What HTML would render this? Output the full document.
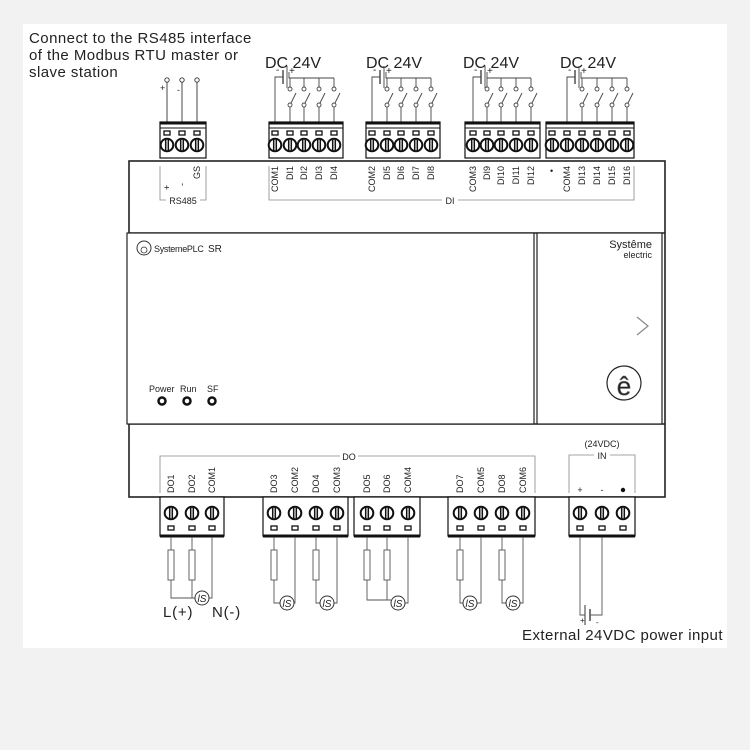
<!DOCTYPE html>
<html><head><meta charset="utf-8"><style>
html,body{margin:0;padding:0;background:#f2f2f2;}
svg{display:block;}
text{font-family:"Liberation Sans",Arial,sans-serif;fill:#222;}
</style></head><body>
<svg width="750" height="750" viewBox="0 0 750 750" xmlns="http://www.w3.org/2000/svg">
<defs>
<g id="s"><circle r="6.3" fill="#fff" stroke="#111" stroke-width="2"/><line x1="-1.3" y1="-6" x2="-1.3" y2="6" stroke="#111" stroke-width="1.5"/><line x1="1.3" y1="-6" x2="1.3" y2="6" stroke="#111" stroke-width="1.5"/></g>
<rect id="r" x="-3" y="-2" width="6" height="4" fill="#fff" stroke="#111" stroke-width="1.3"/>
<g id="sw" fill="none" stroke="#444" stroke-width="0.9"><line x1="0" y1="78" x2="0" y2="87"/><circle cx="0" cy="89" r="2"/><circle cx="0" cy="105" r="2"/><line x1="1" y1="103" x2="6" y2="93"/><line x1="0" y1="107" x2="0" y2="122"/></g>
<g id="coil"><circle r="7" fill="#fff" stroke="#333" stroke-width="1"/><text x="0" y="4" font-size="10" text-anchor="middle" font-style="italic">lS</text></g>
<rect id="res" x="-3" y="0" width="6" height="30" fill="#fff" stroke="#555" stroke-width="0.9"/>
</defs>
<rect x="23" y="24" width="704" height="624" fill="#fff"/>
<g font-size="15" letter-spacing="0.45">
<text x="29" y="43">Connect to the RS485 interface</text>
<text x="29" y="60">of the Modbus RTU master or</text>
<text x="29" y="77">slave station</text>
</g>
<g font-size="16"><text x="265" y="68">DC 24V</text><text x="366" y="68">DC 24V</text><text x="463" y="68">DC 24V</text><text x="560" y="68">DC 24V</text></g>

<g stroke="#333" stroke-width="0.9" fill="#fff"><line x1="167" y1="82" x2="167" y2="122"/><line x1="182" y1="82" x2="182" y2="122"/><line x1="197" y1="82" x2="197" y2="122"/><circle cx="167" cy="80" r="2.2"/><circle cx="182" cy="80" r="2.2"/><circle cx="197" cy="80" r="2.2"/></g>
<text x="160" y="91" font-size="9">+</text><text x="177" y="93" font-size="9">-</text>

<g fill="#fff" stroke="#222" stroke-width="1.6">
<rect x="129" y="161" width="536" height="336"/>
<line x1="129" y1="233" x2="665" y2="233"/>
<line x1="129" y1="424" x2="665" y2="424"/>
<rect x="127" y="233" width="407" height="191" stroke-width="1.2"/>
<rect x="537" y="233" width="125" height="191" stroke-width="1.2"/>
</g>

<g fill="none" stroke="#444" stroke-width="0.9">
<polyline points="275,122 275,77 283,77"/><line x1="283" y1="70" x2="283" y2="84" stroke-width="1.4"/><line x1="287" y1="66" x2="287" y2="88"/><polyline points="289,72 289,78 334,78"/>
<polyline points="372,122 372,77 380,77"/><line x1="380" y1="70" x2="380" y2="84" stroke-width="1.4"/><line x1="384" y1="66" x2="384" y2="88"/><polyline points="386,72 386,78 431,78"/>
<polyline points="473,122 473,77 481,77"/><line x1="481" y1="70" x2="481" y2="84" stroke-width="1.4"/><line x1="485" y1="66" x2="485" y2="88"/><polyline points="487,72 487,78 531,78"/>
<polyline points="567,122 567,77 575,77"/><line x1="575" y1="70" x2="575" y2="84" stroke-width="1.4"/><line x1="579" y1="66" x2="579" y2="88"/><polyline points="581,72 581,78 627,78"/>
</g>
<g font-size="10"><text x="276" y="73">-</text><text x="289" y="74">+</text><text x="373" y="73">-</text><text x="386" y="74">+</text><text x="474" y="73">-</text><text x="487" y="74">+</text><text x="568" y="73">-</text><text x="581" y="74">+</text></g>
<use href="#sw" x="290"/><use href="#sw" x="304"/><use href="#sw" x="319"/><use href="#sw" x="334"/>
<use href="#sw" x="387"/><use href="#sw" x="401"/><use href="#sw" x="416"/><use href="#sw" x="431"/>
<use href="#sw" x="487"/><use href="#sw" x="501"/><use href="#sw" x="516"/><use href="#sw" x="531"/>
<use href="#sw" x="582"/><use href="#sw" x="597"/><use href="#sw" x="612"/><use href="#sw" x="627"/>

<g fill="#fff" stroke="#111" stroke-width="1.2">
<rect x="160" y="122" width="46" height="36"/><rect x="269" y="122" width="74" height="36"/><rect x="366" y="122" width="74" height="36"/><rect x="465" y="122" width="75" height="36"/><rect x="546" y="122" width="88" height="36"/>
</g>
<g stroke="#111" stroke-width="3"><line x1="160" y1="123" x2="206" y2="123"/><line x1="269" y1="123" x2="343" y2="123"/><line x1="366" y1="123" x2="440" y2="123"/><line x1="465" y1="123" x2="540" y2="123"/><line x1="546" y1="123" x2="634" y2="123"/></g>
<g stroke="#111" stroke-width="1"><line x1="160" y1="128" x2="206" y2="128"/><line x1="269" y1="128" x2="343" y2="128"/><line x1="366" y1="128" x2="440" y2="128"/><line x1="465" y1="128" x2="540" y2="128"/><line x1="546" y1="128" x2="634" y2="128"/></g>
<g>
<use href="#r" x="167" y="133"/><use href="#r" x="182" y="133"/><use href="#r" x="197" y="133"/>
<use href="#s" x="167" y="145"/><use href="#s" x="182" y="145"/><use href="#s" x="197" y="145"/>
<use href="#r" x="275" y="133"/><use href="#r" x="290" y="133"/><use href="#r" x="304" y="133"/><use href="#r" x="319" y="133"/><use href="#r" x="334" y="133"/>
<use href="#s" x="275" y="145"/><use href="#s" x="290" y="145"/><use href="#s" x="304" y="145"/><use href="#s" x="319" y="145"/><use href="#s" x="334" y="145"/>
<use href="#r" x="372" y="133"/><use href="#r" x="387" y="133"/><use href="#r" x="401" y="133"/><use href="#r" x="416" y="133"/><use href="#r" x="431" y="133"/>
<use href="#s" x="372" y="145"/><use href="#s" x="387" y="145"/><use href="#s" x="401" y="145"/><use href="#s" x="416" y="145"/><use href="#s" x="431" y="145"/>
<use href="#r" x="473" y="133"/><use href="#r" x="487" y="133"/><use href="#r" x="501" y="133"/><use href="#r" x="516" y="133"/><use href="#r" x="531" y="133"/>
<use href="#s" x="473" y="145"/><use href="#s" x="487" y="145"/><use href="#s" x="501" y="145"/><use href="#s" x="516" y="145"/><use href="#s" x="531" y="145"/>
<use href="#r" x="552" y="133"/><use href="#r" x="567" y="133"/><use href="#r" x="582" y="133"/><use href="#r" x="597" y="133"/><use href="#r" x="612" y="133"/><use href="#r" x="627" y="133"/>
<use href="#s" x="552" y="145"/><use href="#s" x="567" y="145"/><use href="#s" x="582" y="145"/><use href="#s" x="597" y="145"/><use href="#s" x="612" y="145"/><use href="#s" x="627" y="145"/>
</g>

<g font-size="9">
<text transform="translate(170,190) rotate(-90)" fill="#999">+</text>
<text transform="translate(185,186) rotate(-90)" fill="#999">-</text>
<text transform="translate(200,166) rotate(-90)" text-anchor="end">GS</text>
<text transform="translate(278,166) rotate(-90)" text-anchor="end">COM1</text><text transform="translate(293,166) rotate(-90)" text-anchor="end">DI1</text><text transform="translate(307,166) rotate(-90)" text-anchor="end">DI2</text><text transform="translate(322,166) rotate(-90)" text-anchor="end">DI3</text><text transform="translate(337,166) rotate(-90)" text-anchor="end">DI4</text>
<text transform="translate(375,166) rotate(-90)" text-anchor="end">COM2</text><text transform="translate(390,166) rotate(-90)" text-anchor="end">DI5</text><text transform="translate(404,166) rotate(-90)" text-anchor="end">DI6</text><text transform="translate(419,166) rotate(-90)" text-anchor="end">DI7</text><text transform="translate(434,166) rotate(-90)" text-anchor="end">DI8</text>
<text transform="translate(476,166) rotate(-90)" text-anchor="end">COM3</text><text transform="translate(490,166) rotate(-90)" text-anchor="end">DI9</text><text transform="translate(504,166) rotate(-90)" text-anchor="end">DI10</text><text transform="translate(519,166) rotate(-90)" text-anchor="end">DI11</text><text transform="translate(534,166) rotate(-90)" text-anchor="end">DI12</text>
<text x="550" y="174">•</text>
<text transform="translate(570,166) rotate(-90)" text-anchor="end">COM4</text><text transform="translate(585,166) rotate(-90)" text-anchor="end">DI13</text><text transform="translate(600,166) rotate(-90)" text-anchor="end">DI14</text><text transform="translate(615,166) rotate(-90)" text-anchor="end">DI15</text><text transform="translate(630,166) rotate(-90)" text-anchor="end">DI16</text>
<text x="183" y="204" text-anchor="middle">RS485</text>
<text x="450" y="204" text-anchor="middle">DI</text>
</g>
<g fill="none" stroke="#888" stroke-width="0.8">
<polyline points="160,166 160,200 166,200"/><polyline points="206,166 206,200 200,200"/>
<polyline points="269,166 269,200 442,200"/><polyline points="458,200 634,200 634,166"/>
</g>

<circle cx="144" cy="248" r="7" fill="none" stroke="#333" stroke-width="1"/><circle cx="144" cy="250" r="3" fill="none" stroke="#333" stroke-width="0.8"/>
<text x="154" y="252" font-size="9" fill="#555" letter-spacing="-0.3">SystemePLC</text><text x="208" y="252" font-size="10">SR</text>
<g font-size="9"><text x="149" y="392">Power</text><text x="180" y="392">Run</text><text x="207" y="392">SF</text></g>
<g fill="#fff" stroke="#111" stroke-width="2.5"><circle cx="162" cy="401" r="3.5"/><circle cx="187" cy="401" r="3.5"/><circle cx="212" cy="401" r="3.5"/></g>
<text x="652" y="248" font-size="11" text-anchor="end" fill="#999">Systême</text>
<text x="652" y="258" font-size="9" text-anchor="end" fill="#999">electric</text>
<polyline points="637,317 648,326 637,335" fill="none" stroke="#888" stroke-width="1.2"/>
<circle cx="624" cy="383" r="17" fill="none" stroke="#222" stroke-width="1.2"/>
<text x="624" y="395" font-size="26" text-anchor="middle" fill="#fff" stroke="#777" stroke-width="0.6">ê</text>

<g font-size="9">
<text x="349" y="460" text-anchor="middle">DO</text>
<text transform="translate(174,493) rotate(-90)">DO1</text><text transform="translate(195,493) rotate(-90)">DO2</text><text transform="translate(215,493) rotate(-90)">COM1</text>
<text transform="translate(277,493) rotate(-90)">DO3</text><text transform="translate(298,493) rotate(-90)">COM2</text><text transform="translate(319,493) rotate(-90)">DO4</text><text transform="translate(340,493) rotate(-90)">COM3</text>
<text transform="translate(370,493) rotate(-90)">DO5</text><text transform="translate(390,493) rotate(-90)">DO6</text><text transform="translate(411,493) rotate(-90)">COM4</text>
<text transform="translate(463,493) rotate(-90)">DO7</text><text transform="translate(484,493) rotate(-90)">COM5</text><text transform="translate(505,493) rotate(-90)">DO8</text><text transform="translate(526,493) rotate(-90)">COM6</text>
<text x="602" y="447" text-anchor="middle">(24VDC)</text>
<text x="602" y="459" text-anchor="middle">IN</text>
<text x="580" y="493" text-anchor="middle" fill="#888">+</text>
<text x="602" y="493" text-anchor="middle" fill="#aaa">-</text>
</g>
<circle cx="623" cy="490" r="2.2" fill="#111"/>
<g fill="none" stroke="#888" stroke-width="0.8">
<polyline points="160,493 160,456 340,456"/><polyline points="358,456 535,456 535,493"/>
<polyline points="569,493 569,455 594,455"/><polyline points="610,455 635,455 635,493"/>
</g>

<g fill="#fff" stroke="#111" stroke-width="1.2">
<rect x="160" y="497" width="64" height="39"/><rect x="263" y="497" width="85" height="39"/><rect x="354" y="497" width="66" height="39"/><rect x="448" y="497" width="87" height="39"/><rect x="569" y="497" width="66" height="39"/>
</g>
<g stroke="#111" stroke-width="3"><line x1="160" y1="536" x2="224" y2="536"/><line x1="263" y1="536" x2="348" y2="536"/><line x1="354" y1="536" x2="420" y2="536"/><line x1="448" y1="536" x2="535" y2="536"/><line x1="569" y1="536" x2="635" y2="536"/></g>
<g>
<use href="#s" x="171" y="513"/><use href="#s" x="192" y="513"/><use href="#s" x="212" y="513"/>
<use href="#s" x="274" y="513"/><use href="#s" x="295" y="513"/><use href="#s" x="316" y="513"/><use href="#s" x="337" y="513"/>
<use href="#s" x="367" y="513"/><use href="#s" x="387" y="513"/><use href="#s" x="408" y="513"/>
<use href="#s" x="460" y="513"/><use href="#s" x="481" y="513"/><use href="#s" x="502" y="513"/><use href="#s" x="523" y="513"/>
<use href="#s" x="580" y="513"/><use href="#s" x="602" y="513"/><use href="#s" x="623" y="513"/>
<use href="#r" x="171" y="528"/><use href="#r" x="192" y="528"/><use href="#r" x="212" y="528"/>
<use href="#r" x="274" y="528"/><use href="#r" x="295" y="528"/><use href="#r" x="316" y="528"/><use href="#r" x="337" y="528"/>
<use href="#r" x="367" y="528"/><use href="#r" x="387" y="528"/><use href="#r" x="408" y="528"/>
<use href="#r" x="460" y="528"/><use href="#r" x="481" y="528"/><use href="#r" x="502" y="528"/><use href="#r" x="523" y="528"/>
<use href="#r" x="580" y="528"/><use href="#r" x="602" y="528"/><use href="#r" x="623" y="528"/>
</g>

<g fill="none" stroke="#555" stroke-width="0.9">
<line x1="171" y1="537" x2="171" y2="550"/><polyline points="171,580 171,598 195,598"/>
<line x1="192" y1="537" x2="192" y2="550"/><line x1="192" y1="580" x2="192" y2="598"/>
<polyline points="212,537 212,598 209,598"/>
<line x1="274" y1="537" x2="274" y2="550"/><polyline points="274,580 274,603 280,603"/><polyline points="295,537 295,603 294,603"/>
<line x1="316" y1="537" x2="316" y2="550"/><polyline points="316,580 316,603 320,603"/><polyline points="337,537 337,603 334,603"/>
<line x1="367" y1="537" x2="367" y2="550"/><polyline points="367,580 367,600 391,600"/>
<line x1="387" y1="537" x2="387" y2="550"/><line x1="387" y1="580" x2="387" y2="600"/><polyline points="408,537 408,603 405,603"/>
<line x1="460" y1="537" x2="460" y2="550"/><polyline points="460,580 460,603 463,603"/><polyline points="481,537 481,603 477,603"/>
<line x1="502" y1="537" x2="502" y2="550"/><polyline points="502,580 502,603 506,603"/><polyline points="523,537 523,603 520,603"/>
<polyline points="580,537 580,615 585,615"/><line x1="585" y1="605" x2="585" y2="625" stroke-width="1.2"/><line x1="590" y1="609" x2="590" y2="621" stroke-width="1.6"/><polyline points="590,615 602,615 602,537"/>
</g>
<use href="#res" x="171" y="550"/><use href="#res" x="192" y="550"/><use href="#res" x="274" y="550"/><use href="#res" x="316" y="550"/><use href="#res" x="367" y="550"/><use href="#res" x="387" y="550"/><use href="#res" x="460" y="550"/><use href="#res" x="502" y="550"/>
<use href="#coil" x="202" y="598"/><use href="#coil" x="287" y="603"/><use href="#coil" x="327" y="603"/><use href="#coil" x="398" y="603"/><use href="#coil" x="470" y="603"/><use href="#coil" x="513" y="603"/>
<text x="580" y="623" font-size="8">+</text><text x="596" y="625" font-size="8">-</text>
<text x="163" y="617" font-size="15" letter-spacing="0.8">L(+)</text><text x="212" y="617" font-size="15" letter-spacing="0.8">N(-)</text>
<text x="522" y="640" font-size="15" letter-spacing="0.45">External 24VDC power input</text>
</svg>
</body></html>
